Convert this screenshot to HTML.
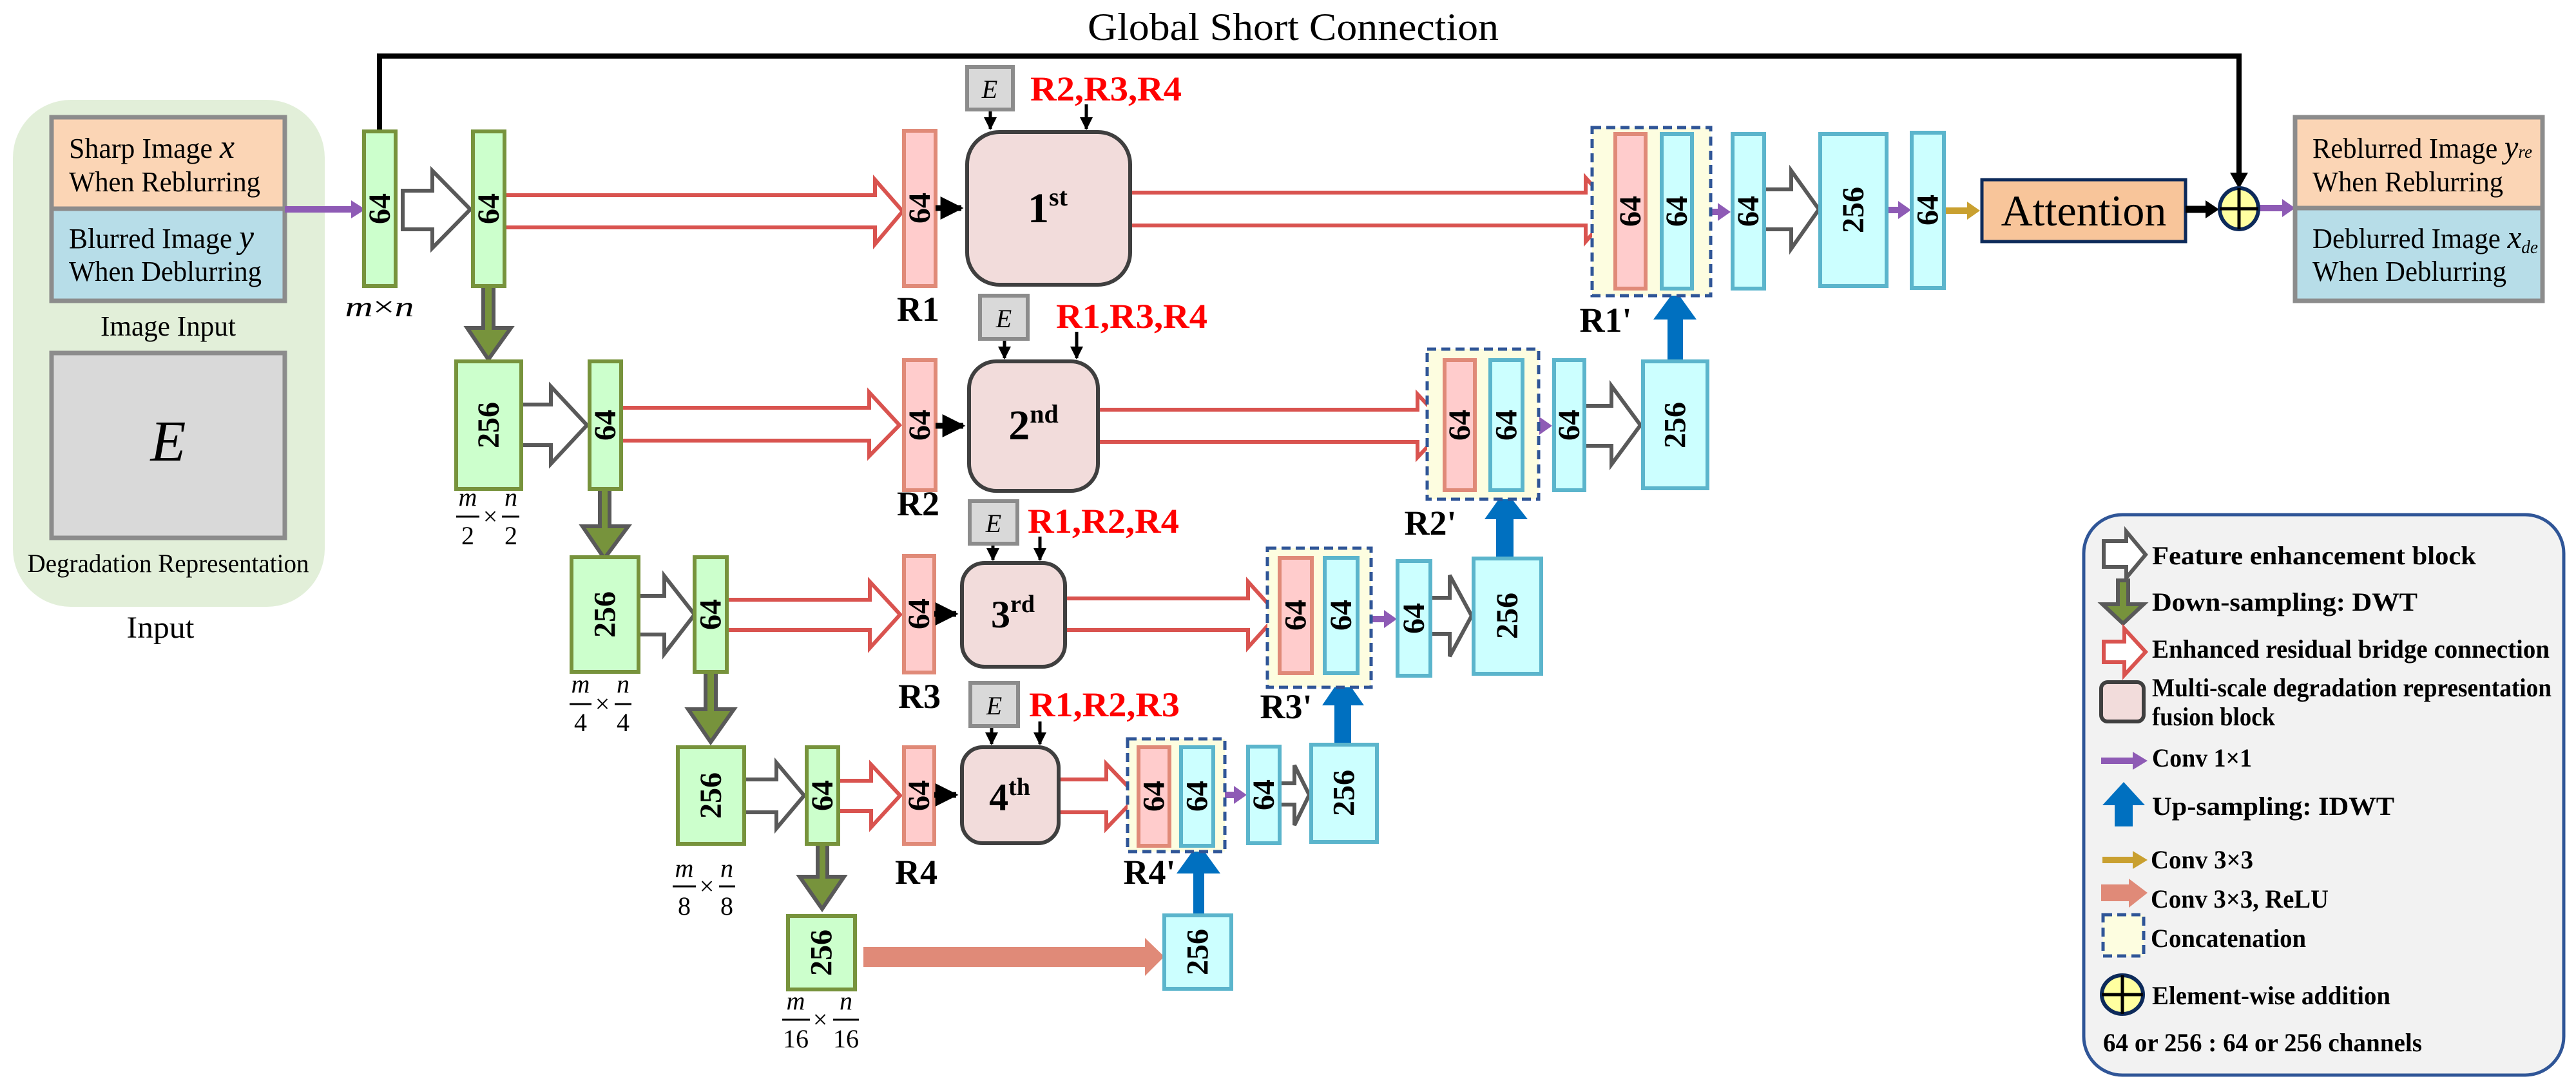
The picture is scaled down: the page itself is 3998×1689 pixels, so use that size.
<!DOCTYPE html>
<html><head><meta charset="utf-8"><style>
html,body{margin:0;padding:0;background:#fff;}
svg{display:block;font-family:"Liberation Serif","Times New Roman",Times,serif;}
svg text{font-family:"Liberation Serif","Times New Roman",Times,serif;}
.n{font-weight:bold;font-size:48px;text-anchor:middle;dominant-baseline:central;}
.b{font-weight:bold;}
.g{fill:#ccffcc;stroke:#77933c;stroke-width:6;}
.p{fill:#ffcccc;stroke:#e08a78;stroke-width:6;}
.c{fill:#ccffff;stroke:#5bb5cc;stroke-width:6;}
.cat{fill:#fdfde0;stroke:#2f5597;stroke-width:5;stroke-dasharray:14 8;}
.fu{fill:#f2dcdb;stroke:#3f3f3f;stroke-width:6;}
.fe{fill:#fff;stroke:#595959;stroke-width:6;stroke-linejoin:miter;}
.rb{fill:#fff;stroke:#d9534f;stroke-width:6;}
.dn{fill:#77933c;stroke:#595959;stroke-width:6;}
.up{fill:#0070c0;}
.eb{fill:#d9d9d9;stroke:#8c8c8c;stroke-width:6;}
.red{fill:#ff0000;font-weight:bold;font-size:54px;}
.rl{font-weight:bold;font-size:54px;text-anchor:middle;}
.lg{font-weight:bold;font-size:40px;}
</style></head><body>
<svg width="3998" height="1689" viewBox="0 0 3998 1689" xmlns="http://www.w3.org/2000/svg" font-family="Liberation Serif, Times New Roman, serif">
<defs>
<marker id="mk" viewBox="0 0 10 10" refX="9" refY="5" markerWidth="4" markerHeight="4" orient="auto" markerUnits="strokeWidth"><path d="M0 0L10 5L0 10Z" fill="#000"/></marker>
</defs>

<text x="2007" y="62" font-size="60" text-anchor="middle" textLength="638" lengthAdjust="spacingAndGlyphs">Global Short Connection</text>
<polyline points="589,204 589,87 3475,87 3475,272" fill="none" stroke="#000" stroke-width="8"/>
<polygon points="3461,268 3489,268 3475,293" fill="#000"/>

<rect x="20" y="155" width="484" height="787" rx="90" fill="#e2efd9"/>
<rect x="80" y="182" width="362" height="142" fill="#fbd5b5" stroke="#8c8c8c" stroke-width="7"/>
<rect x="80" y="324" width="362" height="143" fill="#b7dde8" stroke="#8c8c8c" stroke-width="7"/>
<text x="107" y="245" font-size="44" textLength="257" lengthAdjust="spacingAndGlyphs">Sharp Image <tspan font-style="italic" font-size="52">x</tspan></text>
<text x="107" y="297" font-size="44" textLength="297" lengthAdjust="spacingAndGlyphs">When Reblurring</text>
<text x="107" y="385" font-size="44" textLength="287" lengthAdjust="spacingAndGlyphs">Blurred Image <tspan font-style="italic" font-size="52">y</tspan></text>
<text x="107" y="436" font-size="44" textLength="299" lengthAdjust="spacingAndGlyphs">When Deblurring</text>
<text x="261" y="521" font-size="44" text-anchor="middle" textLength="210" lengthAdjust="spacingAndGlyphs">Image Input</text>
<rect x="80" y="548" width="362" height="287" fill="#d9d9d9" stroke="#8c8c8c" stroke-width="7"/>
<text x="261" y="715" font-size="90" font-style="italic" text-anchor="middle">E</text>
<text x="261" y="888" font-size="40" text-anchor="middle" textLength="437" lengthAdjust="spacingAndGlyphs">Degradation Representation</text>
<text x="249" y="990" font-size="48" text-anchor="middle" textLength="105" lengthAdjust="spacingAndGlyphs">Input</text>

<g fill="#8e5bb5" stroke="none">
<rect x="442" y="320" width="105" height="10"/><polygon points="545,311 567,325 545,339"/>
<rect x="2626" y="324" width="42" height="10"/><polygon points="2666,315 2686,329 2666,343"/>
<rect x="2363" y="656" width="28" height="10"/><polygon points="2389,647 2409,661 2389,675"/>
<rect x="2107" y="956" width="43" height="10"/><polygon points="2148,947 2168,961 2148,975"/>
<rect x="1883" y="1229" width="34" height="10"/><polygon points="1915,1220 1935,1234 1915,1248"/>
<rect x="2928" y="321" width="20" height="10"/><polygon points="2946,312 2966,326 2946,340"/>
<rect x="3505" y="318" width="39" height="10"/><polygon points="3542,309 3562,323 3542,337"/>
</g>
<g fill="#c9a030"><rect x="3017" y="322" width="38" height="10"/><polygon points="3053,313 3073,327 3053,341"/></g>

<path class="fe" d="M625 296L671 296L671 265L730 325L671 385L671 356L625 356Z"/>
<path class="fe" d="M809 628L855 628L855 600L911 660L855 720L855 691L809 691Z"/>
<path class="fe" d="M991 925L1031 925L1031 894L1078 954L1031 1015L1031 985L991 985Z"/>
<path class="fe" d="M1155 1210L1205 1210L1205 1184L1248 1235L1205 1286L1205 1261L1155 1261Z"/>
<path class="fe" d="M1986 1216L2009 1216L2009 1188L2032 1234L2009 1281L2009 1249L1986 1249Z"/>
<path class="fe" d="M2220 928L2250 928L2250 893L2284 956L2250 1019L2250 984L2220 984Z"/>
<path class="fe" d="M2459 630L2501 630L2501 599L2546 660L2501 721L2501 692L2459 692Z"/>
<path class="fe" d="M2738 294L2780 294L2780 265L2823 325L2780 386L2780 356L2738 356Z"/>

<path class="rb" d="M783 303L1358 303L1358 279L1401 328L1358 379L1358 353L783 353Z"/>
<path class="rb" d="M1754 299L2461 299L2461 276L2505 325L2461 375L2461 350L1754 350Z"/>
<path class="rb" d="M964 633L1349 633L1349 609L1396 660L1349 708L1349 684L964 684Z"/>
<path class="rb" d="M1704 636L2200 636L2200 612L2246 661L2200 710L2200 686L1704 686Z"/>
<path class="rb" d="M1128 931L1350 931L1350 903L1397 954L1350 1006L1350 978L1128 978Z"/>
<path class="rb" d="M1653 929L1937 929L1937 903L1983 954L1937 1005L1937 978L1653 978Z"/>
<path class="rb" d="M1301 1212L1352 1212L1352 1187L1397 1235L1352 1284L1352 1259L1301 1259Z"/>
<path class="rb" d="M1643 1210L1717 1210L1717 1186L1765 1236L1717 1286L1717 1261L1643 1261Z"/>

<path d="M1340 1470L1777 1470L1777 1456L1807 1485L1777 1515L1777 1501L1340 1501Z" fill="#e08a78"/>

<path class="dn" d="M750 444L766 444L766 509L793 509L758 558L725 509L750 509Z"/>
<path class="dn" d="M931 759L946 759L946 817L975 817L938 867L904 817L931 817Z"/>
<path class="dn" d="M1095 1043L1111 1043L1111 1101L1139 1101L1103 1152L1068 1101L1095 1101Z"/>
<path class="dn" d="M1269 1310L1284 1310L1284 1361L1310 1361L1276 1411L1241 1361L1269 1361Z"/>

<path class="up" d="M1852 1421L1869 1421L1869 1356L1894 1356L1860 1309L1826 1356L1852 1356Z"/>
<path class="up" d="M2071 1156L2097 1156L2097 1095L2117 1095L2084 1048L2052 1095L2071 1095Z"/>
<path class="up" d="M2322 867L2349 867L2349 806L2371 806L2336 761L2304 806L2322 806Z"/>
<path class="up" d="M2588 561L2612 561L2612 496L2633 496L2600 450L2566 496L2588 496Z"/>

<rect class="cat" x="2471" y="198" width="184" height="261"/>
<rect class="cat" x="2215" y="542" width="173" height="233"/>
<rect class="cat" x="1967" y="851" width="161" height="216"/>
<rect class="cat" x="1750" y="1147" width="151" height="175"/>

<rect class="g" x="565" y="204" width="49" height="240"/><text class="n" transform="translate(589.5 324) rotate(-90)">64</text>
<rect class="g" x="734" y="204" width="49" height="240"/><text class="n" transform="translate(758.5 324) rotate(-90)">64</text>
<rect class="g" x="708" y="561" width="101" height="198"/><text class="n" transform="translate(758.5 660) rotate(-90)">256</text>
<rect class="g" x="915" y="561" width="49" height="198"/><text class="n" transform="translate(939.5 660) rotate(-90)">64</text>
<rect class="g" x="887" y="865" width="104" height="178"/><text class="n" transform="translate(939 954) rotate(-90)">256</text>
<rect class="g" x="1078" y="865" width="50" height="178"/><text class="n" transform="translate(1103 954) rotate(-90)">64</text>
<rect class="g" x="1052" y="1160" width="103" height="150"/><text class="n" transform="translate(1103.5 1235) rotate(-90)">256</text>
<rect class="g" x="1252" y="1160" width="49" height="150"/><text class="n" transform="translate(1276.5 1235) rotate(-90)">64</text>
<rect class="g" x="1223" y="1422" width="104" height="114"/><text class="n" transform="translate(1275 1479) rotate(-90)">256</text>

<rect class="p" x="1403" y="203" width="49" height="241"/><text class="n" transform="translate(1427.5 323) rotate(-90)">64</text>
<rect class="p" x="1403" y="559" width="49" height="202"/><text class="n" transform="translate(1427.5 660) rotate(-90)">64</text>
<rect class="p" x="1403" y="863" width="47" height="181"/><text class="n" transform="translate(1426.5 953) rotate(-90)">64</text>
<rect class="p" x="1403" y="1160" width="47" height="150"/><text class="n" transform="translate(1426.5 1235) rotate(-90)">64</text>
<rect class="p" x="2507" y="208" width="47" height="240"/><text class="n" transform="translate(2530.5 328) rotate(-90)">64</text>
<rect class="p" x="2242" y="559" width="47" height="202"/><text class="n" transform="translate(2265.5 660) rotate(-90)">64</text>
<rect class="p" x="1986" y="866" width="50" height="179"/><text class="n" transform="translate(2011 955) rotate(-90)">64</text>
<rect class="p" x="1767" y="1160" width="48" height="153"/><text class="n" transform="translate(1791 1236) rotate(-90)">64</text>

<rect class="c" x="2579" y="208" width="47" height="240"/><text class="n" transform="translate(2602.5 328) rotate(-90)">64</text>
<rect class="c" x="2313" y="559" width="50" height="202"/><text class="n" transform="translate(2338 660) rotate(-90)">64</text>
<rect class="c" x="2056" y="866" width="51" height="179"/><text class="n" transform="translate(2081.5 955) rotate(-90)">64</text>
<rect class="c" x="1833" y="1160" width="50" height="153"/><text class="n" transform="translate(1858 1236) rotate(-90)">64</text>
<rect class="c" x="2689" y="208" width="49" height="240"/><text class="n" transform="translate(2713.5 328) rotate(-90)">64</text>
<rect class="c" x="2825" y="208" width="103" height="236"/><text class="n" transform="translate(2876.5 326) rotate(-90)">256</text>
<rect class="c" x="2967" y="206" width="50" height="241"/><text class="n" transform="translate(2992 326) rotate(-90)">64</text>
<rect class="c" x="2412" y="559" width="47" height="202"/><text class="n" transform="translate(2435.5 660) rotate(-90)">64</text>
<rect class="c" x="2550" y="561" width="100" height="197"/><text class="n" transform="translate(2600 660) rotate(-90)">256</text>
<rect class="c" x="2169" y="871" width="51" height="178"/><text class="n" transform="translate(2194.5 960) rotate(-90)">64</text>
<rect class="c" x="2287" y="867" width="105" height="179"/><text class="n" transform="translate(2339.5 956) rotate(-90)">256</text>
<rect class="c" x="1937" y="1159" width="49" height="150"/><text class="n" transform="translate(1961.5 1234) rotate(-90)">64</text>
<rect class="c" x="2035" y="1156" width="102" height="151"/><text class="n" transform="translate(2086 1231) rotate(-90)">256</text>
<rect class="c" x="1807" y="1421" width="104" height="114"/><text class="n" transform="translate(1859 1478) rotate(-90)">256</text>

<rect class="fu" x="1501" y="205" width="253" height="237" rx="50"/>
<text x="1626" y="345" text-anchor="middle" font-weight="bold" font-size="66">1<tspan font-size="40" dy="-26">st</tspan></text>
<rect class="fu" x="1504" y="561" width="200" height="201" rx="42"/>
<text x="1604" y="682" text-anchor="middle" font-weight="bold" font-size="66">2<tspan font-size="40" dy="-26">nd</tspan></text>
<rect class="fu" x="1493" y="874" width="160" height="161" rx="35"/>
<text x="1572" y="974" text-anchor="middle" font-weight="bold" font-size="60">3<tspan font-size="38" dy="-24">rd</tspan></text>
<rect class="fu" x="1493" y="1160" width="150" height="149" rx="32"/>
<text x="1567" y="1258" text-anchor="middle" font-weight="bold" font-size="60">4<tspan font-size="38" dy="-24">th</tspan></text>

<g stroke="#000" stroke-width="9" marker-end="url(#mk)">
<line x1="1452" y1="323" x2="1492" y2="323"/>
<line x1="1452" y1="661" x2="1495" y2="661"/>
<line x1="1450" y1="953" x2="1484" y2="953"/>
<line x1="1450" y1="1234" x2="1484" y2="1234"/>
</g>

<rect class="eb" x="1501" y="104" width="71" height="66"/><text x="1536" y="152" font-size="40" font-style="italic" text-anchor="middle">E</text>
<rect class="eb" x="1521" y="459" width="74" height="67"/><text x="1558" y="508" font-size="40" font-style="italic" text-anchor="middle">E</text>
<rect class="eb" x="1505" y="778" width="74" height="66"/><text x="1542" y="826" font-size="40" font-style="italic" text-anchor="middle">E</text>
<rect class="eb" x="1506" y="1060" width="74" height="67"/><text x="1543" y="1109" font-size="40" font-style="italic" text-anchor="middle">E</text>
<g stroke="#000" stroke-width="5" marker-end="url(#mk)">
<line x1="1537" y1="173" x2="1537" y2="200"/>
<line x1="1686" y1="162" x2="1686" y2="200"/>
<line x1="1559" y1="529" x2="1559" y2="556"/>
<line x1="1671" y1="515" x2="1671" y2="556"/>
<line x1="1541" y1="847" x2="1541" y2="869"/>
<line x1="1614" y1="833" x2="1614" y2="869"/>
<line x1="1539" y1="1130" x2="1539" y2="1155"/>
<line x1="1614" y1="1120" x2="1614" y2="1155"/>
</g>
<text class="red" x="1599" y="156" textLength="235" lengthAdjust="spacingAndGlyphs">R2,R3,R4</text>
<text class="red" x="1639" y="509" textLength="235" lengthAdjust="spacingAndGlyphs">R1,R3,R4</text>
<text class="red" x="1595" y="827" textLength="235" lengthAdjust="spacingAndGlyphs">R1,R2,R4</text>
<text class="red" x="1597" y="1112" textLength="234" lengthAdjust="spacingAndGlyphs">R1,R2,R3</text>

<text class="rl" x="1425" y="498">R1</text>
<text class="rl" x="1425" y="800">R2</text>
<text class="rl" x="1427" y="1099">R3</text>
<text class="rl" x="1422" y="1372">R4</text>
<text class="rl" x="2492" y="515">R1'</text>
<text class="rl" x="2220" y="830">R2'</text>
<text class="rl" x="1996" y="1115">R3'</text>
<text class="rl" x="1784" y="1372">R4'</text>

<text x="589" y="491" font-size="44" font-style="italic" text-anchor="middle" textLength="107" lengthAdjust="spacingAndGlyphs">m<tspan font-style="normal">×</tspan>n</text>
<g font-size="40" text-anchor="middle">
<text x="726" y="785" font-style="italic">m</text><text x="793" y="785" font-style="italic">n</text><text x="761" y="815">×</text>
<line x1="708" y1="802" x2="744" y2="802" stroke="#000" stroke-width="3"/><line x1="779" y1="802" x2="806" y2="802" stroke="#000" stroke-width="3"/>
<text x="726" y="845">2</text><text x="793" y="845">2</text>
<text x="901" y="1075" font-style="italic">m</text><text x="967" y="1075" font-style="italic">n</text><text x="935" y="1106">×</text>
<line x1="884" y1="1093" x2="918" y2="1093" stroke="#000" stroke-width="3"/><line x1="954" y1="1093" x2="980" y2="1093" stroke="#000" stroke-width="3"/>
<text x="901" y="1135">4</text><text x="967" y="1135">4</text>
<text x="1062" y="1361" font-style="italic">m</text><text x="1128" y="1361" font-style="italic">n</text><text x="1097" y="1389">×</text>
<line x1="1044" y1="1376" x2="1080" y2="1376" stroke="#000" stroke-width="3"/><line x1="1116" y1="1376" x2="1141" y2="1376" stroke="#000" stroke-width="3"/>
<text x="1062" y="1420">8</text><text x="1128" y="1420">8</text>
<text x="1235" y="1567" font-style="italic">m</text><text x="1313" y="1567" font-style="italic">n</text><text x="1273" y="1596">×</text>
<line x1="1214" y1="1583" x2="1257" y2="1583" stroke="#000" stroke-width="3"/><line x1="1293" y1="1583" x2="1333" y2="1583" stroke="#000" stroke-width="3"/>
<text x="1235" y="1626">16</text><text x="1313" y="1626">16</text>
</g>

<rect x="3076" y="279" width="316" height="96" fill="#f8c59a" stroke="#0d2a5a" stroke-width="5"/>
<text x="3234" y="350" font-size="68" text-anchor="middle">Attention</text>
<line x1="3392" y1="325" x2="3425" y2="325" stroke="#000" stroke-width="11"/>
<polygon points="3423,311 3444,325 3423,339" fill="#000"/>
<ellipse cx="3475" cy="324" rx="30" ry="32" fill="#ffffa0" stroke="#0d2a5a" stroke-width="6"/>
<line x1="3445" y1="324" x2="3505" y2="324" stroke="#000" stroke-width="5"/>
<line x1="3475" y1="292" x2="3475" y2="356" stroke="#000" stroke-width="5"/>
<rect x="3562" y="182" width="384" height="141" fill="#fbd5b5" stroke="#8c8c8c" stroke-width="7"/>
<rect x="3562" y="323" width="384" height="144" fill="#b7dde8" stroke="#8c8c8c" stroke-width="7"/>
<text x="3589" y="245" font-size="44" textLength="341" lengthAdjust="spacingAndGlyphs">Reblurred Image <tspan font-style="italic" font-size="50">y</tspan><tspan font-style="italic" font-size="28">re</tspan></text>
<text x="3589" y="297" font-size="44" textLength="296" lengthAdjust="spacingAndGlyphs">When Reblurring</text>
<text x="3589" y="385" font-size="44" textLength="350" lengthAdjust="spacingAndGlyphs">Deblurred Image <tspan font-style="italic" font-size="50">x</tspan><tspan font-style="italic" font-size="28" dy="8">de</tspan></text>
<text x="3589" y="436" font-size="44" textLength="301" lengthAdjust="spacingAndGlyphs">When Deblurring</text>

<rect x="3234" y="799" width="745" height="870" rx="60" fill="#f2f2f2" stroke="#2f5597" stroke-width="5"/>
<path class="fe" d="M3265 840L3300 840L3300 825L3330 861L3300 897L3300 880L3265 880Z" stroke-width="5"/>
<path class="dn" d="M3287 901L3303 901L3303 938L3327 938L3295 968L3263 938L3287 938Z" stroke-width="5"/>
<path class="rb" d="M3265 996L3297 996L3297 976L3330 1012L3297 1048L3297 1028L3265 1028Z" stroke-width="5"/>
<rect class="fu" x="3261" y="1059" width="66" height="61" rx="10" stroke-width="5"/>
<rect x="3261" y="1176" width="52" height="10" fill="#8e5bb5"/><polygon points="3310,1167 3333,1181 3310,1195" fill="#8e5bb5"/>
<path class="up" d="M3282 1283L3310 1283L3310 1250L3329 1250L3296 1214L3263 1250L3282 1250Z"/>
<rect x="3263" y="1330" width="50" height="10" fill="#c9a030"/><polygon points="3310,1321 3333,1335 3310,1349" fill="#c9a030"/>
<path d="M3261 1373L3304 1373L3304 1364L3333 1386L3304 1409L3304 1399L3261 1399Z" fill="#e08a78"/>
<rect class="cat" x="3264" y="1420" width="63" height="64"/>
<ellipse cx="3294" cy="1544" rx="32" ry="30" fill="#ffffa0" stroke="#0d2a5a" stroke-width="6"/>
<line x1="3262" y1="1544" x2="3326" y2="1544" stroke="#000" stroke-width="5"/>
<line x1="3294" y1="1514" x2="3294" y2="1574" stroke="#000" stroke-width="5"/>
<text class="lg" x="3340" y="876" textLength="503" lengthAdjust="spacingAndGlyphs">Feature enhancement block</text>
<text class="lg" x="3340" y="948" textLength="412" lengthAdjust="spacingAndGlyphs">Down-sampling: DWT</text>
<text class="lg" x="3340" y="1021" font-size="36" textLength="617" lengthAdjust="spacingAndGlyphs">Enhanced residual bridge connection</text>
<text class="lg" x="3340" y="1081" font-size="36" textLength="620" lengthAdjust="spacingAndGlyphs">Multi-scale degradation representation</text>
<text class="lg" x="3340" y="1126" font-size="36" textLength="191" lengthAdjust="spacingAndGlyphs">fusion block</text>
<text class="lg" x="3340" y="1190" font-size="36" textLength="155" lengthAdjust="spacingAndGlyphs">Conv 1×1</text>
<text class="lg" x="3340" y="1265" textLength="376" lengthAdjust="spacingAndGlyphs">Up-sampling: IDWT</text>
<text class="lg" x="3338" y="1348" font-size="36" textLength="159" lengthAdjust="spacingAndGlyphs">Conv 3×3</text>
<text class="lg" x="3338" y="1409" font-size="36" textLength="276" lengthAdjust="spacingAndGlyphs">Conv 3×3, ReLU</text>
<text class="lg" x="3338" y="1470" font-size="36" textLength="241" lengthAdjust="spacingAndGlyphs">Concatenation</text>
<text class="lg" x="3340" y="1559" font-size="36" textLength="370" lengthAdjust="spacingAndGlyphs">Element-wise addition</text>
<text class="lg" x="3264" y="1632" font-size="36" textLength="495" lengthAdjust="spacingAndGlyphs">64 or 256 : 64 or 256 channels</text>
</svg>
</body></html>
